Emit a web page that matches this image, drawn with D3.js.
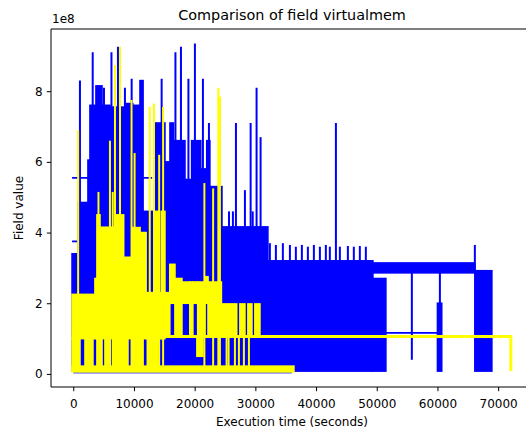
<!DOCTYPE html>
<html>
<head>
<meta charset="utf-8">
<script src="https://cdn.jsdelivr.net/npm/d3@7"></script>
<style>
  body { margin: 0; background: #fff; }
  text { font-family: "DejaVu Sans", sans-serif; fill: #000; }
</style>
</head>
<body>
<div id="chart"></div>
<script>
// values, y in units of 1e8
// blocks = [start time, end time, low, high] (dense back-and-forth runs)
var blueBlocks = [
  [-200, 800, 0.08, 3.4], [800, 2420, 0.08, 4.85], [2420, 2750, 0.08, 6.05],
  [2750, 3740, 0.08, 7.6], [3740, 4730, 0.08, 8.15], [4730, 6040, 0.08, 7.6],
  [6040, 8510, 0.08, 7.55], [8510, 9800, 0.08, 7.65], [9800, 10990, 0.08, 7.6],
  [10990, 11500, 0.08, 8.3], [11500, 13460, 0.08, 4.6], [13460, 15100, 0.08, 7.1],
  [15100, 15930, 0.08, 6.0], [15930, 16500, 0.08, 7.1], [16500, 18400, 0.08, 6.6],
  [18400, 19500, 0.08, 5.5], [19500, 21000, 0.08, 6.6], [21000, 22000, 0.08, 5.8],
  [22000, 22500, 0.08, 6.6], [22500, 24490, 0.08, 5.3], [24490, 32060, 0.08, 4.16],
  [32060, 49360, 0.08, 3.2], [49360, 51500, 0.08, 2.7], [49360, 66160, 2.86, 3.14],
  [60000, 60700, 0.08, 2.0], [66160, 68960, 0.08, 2.92]
];
// spikes = [time, low, high]
var blueSpikes = [
  [1100, 0.1, 8.3], [3200, 0.1, 9.1], [3900, 0.1, 8.15], [5060, 0.1, 8.1],
  [6290, 0.1, 9.1], [6870, 0.1, 8.3], [7360, 0.1, 9.26], [8510, 0.1, 8.1],
  [9620, 0.1, 8.35], [11270, 0.1, 8.3], [14560, 0.1, 8.35], [16830, 0.1, 9.1],
  [17740, 0.1, 9.26], [18970, 0.1, 8.35], [20040, 0.1, 9.35], [21360, 0.1, 8.35],
  [22020, 0.1, 6.6], [22350, 0.1, 7.1], [25660, 0.1, 4.6], [26300, 0.1, 4.6],
  [26800, 0.1, 7.1], [28280, 0.1, 5.2], [29220, 0.1, 7.1], [29560, 0.1, 4.6],
  [30200, 0.1, 8.1], [30860, 0.1, 6.7], [32390, 0.1, 3.7], [33380, 0.1, 3.65],
  [34530, 0.1, 3.7], [35690, 0.1, 3.65], [36670, 0.1, 3.6], [37660, 0.1, 3.65],
  [38650, 0.1, 3.6], [39640, 0.1, 3.65], [40630, 0.1, 3.6], [41610, 0.1, 3.65],
  [42270, 0.1, 3.6], [43270, 0.1, 7.1], [43920, 0.1, 3.6], [45240, 0.1, 3.62],
  [46220, 0.1, 3.6], [47210, 0.1, 3.62], [48200, 0.1, 3.6], [55780, 0.4, 2.9],
  [60400, 0.08, 2.9], [66160, 2.9, 3.65]
];
// flat runs = [start time, end time, value]
var blueFlats = [
  [-200, 13000, 5.55], [-200, 700, 3.75], [0, 36000, 0.03], [51500, 60400, 1.16]
];

var yellowBlocks = [
  [-200, 3570, 1.0, 2.25], [3570, 3900, 1.0, 2.7], [3900, 4400, 1.0, 4.5],
  [4400, 6870, 1.0, 4.15], [6870, 8300, 1.0, 4.5], [8300, 9800, 1.0, 3.3],
  [9800, 11000, 1.0, 4.14], [11000, 12000, 1.0, 4.0], [12000, 13300, 1.0, 2.3],
  [13300, 14000, 1.0, 4.6], [14000, 14500, 1.0, 2.3], [14500, 15100, 1.0, 4.6],
  [15100, 15900, 1.05, 2.3], [15900, 16750, 2.0, 3.1], [16750, 17900, 1.05, 2.7],
  [17900, 19200, 2.0, 2.6], [19200, 19700, 1.05, 2.6], [19700, 20500, 2.0, 2.6],
  [20500, 21700, 1.05, 2.6], [21700, 22200, 2.0, 2.75], [22200, 24400, 1.05, 2.6],
  [24400, 26930, 1.05, 1.98], [27450, 28280, 1.05, 1.98], [28770, 29430, 1.05, 1.98],
  [29920, 30750, 1.05, 1.98],
  [-200, 1100, 0.08, 1.0], [1930, 3240, 0.08, 1.0], [3900, 4730, 0.08, 1.0],
  [5220, 6040, 0.08, 1.0], [6540, 9010, 0.08, 1.0], [9670, 11500, 0.08, 1.0],
  [12200, 13000, 0.08, 1.0], [13450, 13950, 0.08, 1.0], [20370, 21360, 0.5, 1.05],
  [-200, 36350, 0.06, 0.22]
];
var yellowSpikes = [
  [800, 0.1, 6.9], [4150, 0.1, 5.15], [6040, 0.1, 6.6], [6500, 0.1, 5.15],
  [6870, 0.1, 8.74], [7700, 0.1, 9.26], [9600, 0.1, 7.75], [10100, 0.1, 6.25],
  [12600, 0.1, 7.56], [13300, 0.1, 7.65], [14150, 0.1, 6.2], [14800, 0.1, 7.55],
  [21600, 0.1, 5.4], [23040, 0.1, 5.25], [23900, 0.1, 8.1], [24160, 0.1, 7.85],
  [25260, 0.1, 1.05], [25590, 0.1, 1.05], [26630, 0.1, 1.05], [27290, 0.1, 1.05],
  [28110, 0.1, 1.05], [28940, 0.1, 1.05]
];
var yellowTailX = [-200, 72090, 72090];
var yellowTailY = [1.06, 1.06, 0.08];

var xTicks = [0, 10000, 20000, 30000, 40000, 50000, 60000, 70000];
var yTicks = [0, 2, 4, 6, 8];

var width = 526, height = 435;
var padL = 51, padR = 533, padT = 29, padB = 387;

var x = d3.scaleLinear().domain([-3670, 75740]).range([padL, padR]);
var y = d3.scaleLinear().domain([-0.37, 9.76]).range([padB, padT]);

var svg = d3.select("#chart").append("svg")
  .attr("width", width)
  .attr("height", height);

svg.append("clipPath").attr("id", "plotclip")
  .append("rect")
  .attr("x", padL).attr("y", padT)
  .attr("width", padR - padL).attr("height", padB - padT);

var plot = svg.append("g").attr("clip-path", "url(#plotclip)");

function drawSeries(blocks, spikes, colour) {
  plot.append("g").selectAll("rect")
    .data(blocks)
    .enter().append("rect")
    .attr("x", function (d) { return x(d[0]); })
    .attr("y", function (d) { return y(d[3]); })
    .attr("width", function (d) { return x(d[1]) - x(d[0]); })
    .attr("height", function (d) { return y(d[2]) - y(d[3]); })
    .attr("fill", colour)
    .attr("stroke", colour)
    .attr("stroke-width", 1.6);

  plot.append("g").selectAll("line")
    .data(spikes)
    .enter().append("line")
    .attr("x1", function (d) { return x(d[0]); })
    .attr("x2", function (d) { return x(d[0]); })
    .attr("y1", function (d) { return y(d[1]); })
    .attr("y2", function (d) { return y(d[2]); })
    .attr("stroke", colour)
    .attr("stroke-width", 2);
}

drawSeries(blueBlocks, blueSpikes, "#0000ff");

plot.append("g").selectAll("line")
  .data(blueFlats)
  .enter().append("line")
  .attr("x1", function (d) { return x(d[0]); })
  .attr("x2", function (d) { return x(d[1]); })
  .attr("y1", function (d) { return y(d[2]); })
  .attr("y2", function (d) { return y(d[2]); })
  .attr("stroke", "#0000ff")
  .attr("stroke-width", function (d) { return d[2] < 0.1 ? 1 : 1.8; });

drawSeries(yellowBlocks, yellowSpikes, "#ffff00");

var tail = d3.line()
  .x(function (d) { return x(d[0]); })
  .y(function (d) { return y(d[1]); });
plot.append("path")
  .attr("d", tail(d3.zip(yellowTailX, yellowTailY)))
  .attr("fill", "none")
  .attr("stroke", "#ffff00")
  .attr("stroke-width", 3);

// axes
var xAxis = svg.append("g")
  .attr("transform", "translate(0," + padB + ")")
  .call(d3.axisBottom(x).tickValues(xTicks).tickSize(4.2).tickPadding(4.5).tickFormat(d3.format("d")));
xAxis.select(".domain").remove();
xAxis.selectAll("text").attr("font-size", "12px").attr("dy", "1.05em");

var yAxis = svg.append("g")
  .attr("transform", "translate(" + padL + ",0)")
  .call(d3.axisLeft(y).tickValues(yTicks).tickSize(4.2).tickPadding(4.2).tickFormat(d3.format("d")));
yAxis.select(".domain").remove();
yAxis.selectAll("text").attr("font-size", "12px");

svg.selectAll(".tick line").attr("stroke", "#000").attr("stroke-width", 1);

// spines
svg.append("line").attr("x1", padL).attr("x2", padL).attr("y1", padT).attr("y2", padB)
  .attr("stroke", "#000").attr("stroke-width", 1);
svg.append("line").attr("x1", padL).attr("x2", padR).attr("y1", padB).attr("y2", padB)
  .attr("stroke", "#000").attr("stroke-width", 1);
svg.append("line").attr("x1", padL).attr("x2", padR).attr("y1", padT).attr("y2", padT)
  .attr("stroke", "#000").attr("stroke-width", 1);

svg.append("text")
  .attr("x", (padL + padR) / 2).attr("y", 19.5)
  .attr("text-anchor", "middle")
  .attr("font-size", "14.4px")
  .text("Comparison of field virtualmem");

svg.append("text")
  .attr("x", 52).attr("y", 23)
  .attr("font-size", "12px")
  .text("1e8");

svg.append("text")
  .attr("x", (padL + padR) / 2).attr("y", 426)
  .attr("text-anchor", "middle")
  .attr("font-size", "12px")
  .text("Execution time (seconds)");

svg.append("text")
  .attr("transform", "translate(23," + (padT + padB) / 2 + ") rotate(-90)")
  .attr("text-anchor", "middle")
  .attr("font-size", "12px")
  .text("Field value");
</script>
</body>
</html>
